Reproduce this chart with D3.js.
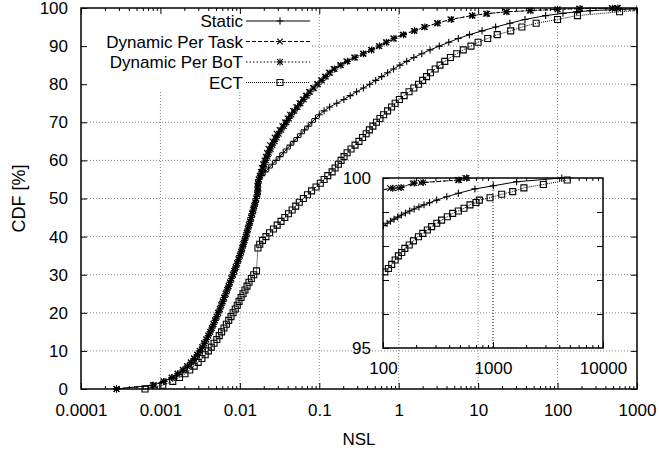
<!DOCTYPE html>
<html lang="en">
<head>
<meta charset="UTF-8">
<title>CDF of NSL</title>
<style>
  body { margin: 0; background: #fff; }
  svg { display: block; font-family: "Liberation Sans", Arial, Helvetica, sans-serif; }
  .tick text { font-size: 17px; font-family: "Liberation Sans", Arial, Helvetica, sans-serif; fill: #000; }
  .grid line { stroke: #888; stroke-width: 1; stroke-dasharray: 1,2; }
  .label { font-size: 17px; fill: #000; }
</style>
</head>
<body>
<div id="chart"></div>
<script src="https://d3js.org/d3.v7.min.js"></script>
<script>
// ---- data (NSL, CDF %) ----
const seriesNames = ["Static", "Dynamic Per Task", "Dynamic Per BoT", "ECT"];
const cdfTicks = [0, 10, 20, 30, 40, 50, 60, 70, 80, 90, 100];
const nslTicks = [0.0001, 0.001, 0.01, 0.1, 1, 10, 100, 1000];
const nslLabels = ["0.0001", "0.001", "0.01", "0.1", "1", "10", "100", "1000"];
const insetXTicks = [100, 1000, 10000];
const insetXLabels = ["100", "1000", "10000"];
const insetYTicks = [95, 100];

const staticMain = [[0.00028,0],[0.00081,1],[0.00111,2],[0.0014,3],[0.00166,4],[0.00194,5],[0.00219,6],[0.00244,7],[0.00268,8],[0.00292,9],[0.00316,10],[0.00339,11],[0.00358,12],[0.0038,13],[0.00403,14],[0.00425,15],[0.00447,16],[0.00468,17],[0.0049,18],[0.00513,19],[0.00537,20],[0.00562,21],[0.00586,22],[0.00612,23],[0.00638,24],[0.00667,25],[0.00695,26],[0.00724,27],[0.00755,28],[0.00785,29],[0.0082,30],[0.00855,31],[0.0089,32],[0.00927,33],[0.00964,34],[0.01,35],[0.0104,36],[0.01074,37],[0.0111,38],[0.01148,39],[0.01186,40],[0.01225,41],[0.01265,42],[0.01306,43],[0.01349,44],[0.0139,45],[0.01432,46],[0.01476,47],[0.0152,48],[0.01567,49],[0.01614,50],[0.0166,51],[0.0168,52],[0.0168,53],[0.0169,54],[0.0173,55],[0.0188,56],[0.0208,57],[0.0231,58],[0.0257,59],[0.0286,60],[0.0318,61],[0.0352,62],[0.039,63],[0.0432,64],[0.0479,65],[0.0531,66],[0.0589,67],[0.0653,68],[0.0725,69],[0.0805,70],[0.0895,71],[0.1,72],[0.115,73],[0.135,74],[0.166,75],[0.204,76],[0.245,77],[0.295,78],[0.359,79],[0.432,80],[0.513,81],[0.61,82],[0.724,83],[0.861,84],[1.035,85],[1.26,86],[1.55,87],[1.95,88],[2.48,89],[3.24,90],[4.27,91],[5.62,92],[7.76,93],[11.2,94],[16.6,95],[25.1,96],[38.9,97],[70.8,98],[117,98.6],[174,99],[257,99.3],[550,99.6],[1000,99.77],[1640,99.89],[4220,100]];

const taskMain = [[0.00028,0],[0.00083,1],[0.00109,2],[0.00138,3],[0.00164,4],[0.00191,5],[0.00216,6],[0.00241,7],[0.00265,8],[0.00289,9],[0.00312,10],[0.00335,11],[0.00355,12],[0.00377,13],[0.004,14],[0.00422,15],[0.00444,16],[0.00465,17],[0.00487,18],[0.0051,19],[0.00533,20],[0.00558,21],[0.00582,22],[0.00608,23],[0.00634,24],[0.00662,25],[0.0069,26],[0.00719,27],[0.0075,28],[0.0078,29],[0.00815,30],[0.0085,31],[0.00885,32],[0.00922,33],[0.0096,34],[0.00996,35],[0.01035,36],[0.0107,37],[0.01107,38],[0.01145,39],[0.01183,40],[0.01222,41],[0.01262,42],[0.01303,43],[0.01345,44],[0.01387,45],[0.0143,46],[0.01474,47],[0.01518,48],[0.01565,49],[0.0161,50],[0.0166,51],[0.0168,52],[0.0168,53],[0.0169,54],[0.0172,55],[0.0177,56],[0.0183,57],[0.0189,58],[0.0196,59],[0.0204,60],[0.0211,61],[0.0219,62],[0.0229,63],[0.024,64],[0.0257,65],[0.0274,66],[0.029,67],[0.0315,68],[0.0343,69],[0.037,70],[0.0398,71],[0.0427,72],[0.0468,73],[0.0513,74],[0.0562,75],[0.0617,76],[0.0676,77],[0.0741,78],[0.0832,79],[0.0933,80],[0.105,81],[0.117,82],[0.132,83],[0.151,84],[0.182,85],[0.219,86],[0.275,87],[0.355,88],[0.447,89],[0.562,90],[0.692,91],[0.851,92],[1.12,93],[1.55,94],[2.09,95],[3.02,96],[4.47,97],[8.3,98],[12.6,98.5],[22.4,99],[44.7,99.3],[100,99.65],[186,99.84],[480,99.94],[560,100]];

const botMain = [[0.00028,0],[0.0008,1],[0.0011,2],[0.00139,3],[0.00165,4],[0.00192,5],[0.00217,6],[0.00242,7],[0.00266,8],[0.0029,9],[0.00314,10],[0.00337,11],[0.00356,12],[0.00378,13],[0.00401,14],[0.00423,15],[0.00445,16],[0.00466,17],[0.00488,18],[0.00511,19],[0.00535,20],[0.0056,21],[0.00584,22],[0.0061,23],[0.00636,24],[0.00664,25],[0.00692,26],[0.00721,27],[0.00752,28],[0.00782,29],[0.00817,30],[0.00852,31],[0.00887,32],[0.00924,33],[0.00962,34],[0.00998,35],[0.01037,36],[0.01072,37],[0.01108,38],[0.01146,39],[0.01184,40],[0.01223,41],[0.01263,42],[0.01304,43],[0.01347,44],[0.01388,45],[0.01431,46],[0.01475,47],[0.01519,48],[0.01566,49],[0.01612,50],[0.0166,51],[0.0168,52],[0.0168,53],[0.0169,54],[0.0174,55],[0.0181,56],[0.0188,57],[0.0196,58],[0.0204,59],[0.0213,60],[0.0222,61],[0.0232,62],[0.0244,63],[0.0258,64],[0.0274,65],[0.0291,66],[0.0309,67],[0.0332,68],[0.0358,69],[0.0387,70],[0.0416,71],[0.0447,72],[0.0487,73],[0.0533,74],[0.0582,75],[0.0638,76],[0.0698,77],[0.0766,78],[0.0857,79],[0.096,80],[0.108,81],[0.121,82],[0.136,83],[0.156,84],[0.187,85],[0.226,86],[0.282,87],[0.36,88],[0.455,89],[0.57,90],[0.7,91],[0.87,92],[1.15,93],[1.58,94],[2.13,95],[3.1,96],[4.6,97],[8.5,98],[13,98.5],[23,99],[46,99.3],[100,99.65],[192,99.85],[490,99.94],[575,100]];

const ectMain = [[0.00064,0],[0.00107,1],[0.00143,2],[0.00174,3],[0.00204,4],[0.00234,5],[0.00266,6],[0.00299,7],[0.00333,8],[0.00366,9],[0.00401,10],[0.00437,11],[0.00473,12],[0.00513,13],[0.0055,14],[0.00589,15],[0.00631,16],[0.00676,17],[0.00724,18],[0.00773,19],[0.00822,20],[0.00875,21],[0.00927,22],[0.00977,23],[0.01035,24],[0.01096,25],[0.01159,26],[0.0123,27],[0.01303,28],[0.01396,29],[0.01496,30],[0.0162,31],[0.0169,37],[0.0178,38],[0.0193,39],[0.0213,40],[0.0237,41],[0.0265,42],[0.0295,43],[0.033,44],[0.0368,45],[0.041,46],[0.0455,47],[0.0505,48],[0.056,49],[0.063,50],[0.071,51],[0.08,52],[0.091,53],[0.103,54],[0.115,55],[0.128,56],[0.145,57],[0.158,58],[0.174,59],[0.188,60],[0.205,61],[0.224,62],[0.251,63],[0.282,64],[0.316,65],[0.351,66],[0.389,67],[0.427,68],[0.473,69],[0.525,70],[0.581,71],[0.646,72],[0.724,73],[0.813,74],[0.902,75],[1.02,76],[1.17,77],[1.35,78],[1.55,79],[1.78,80],[2.0,81],[2.24,82],[2.51,83],[2.88,84],[3.31,85],[3.8,86],[4.47,87],[5.37,88],[6.5,89],[8.13,90],[10,91],[13.2,92],[17.4,93],[25.7,94],[35.5,95],[53.7,96],[100,97],[178,98],[603,99],[1260,99.5],[4730,100]];

// zoomed tail (inset)
const staticInset = [[101,98.6],[109,98.67],[117,98.73],[126,98.79],[136,98.85],[147,98.91],[160,98.97],[175,99.03],[192,99.09],[212,99.15],[236,99.21],[265,99.27],[308,99.35],[380,99.45],[484,99.55],[685,99.68],[1007,99.77],[1640,99.89],[4220,100]];
const taskInset = [[90,99.62],[116,99.7],[140,99.71],[186,99.84],[220,99.86],[480,99.94],[560,100]];
const botInset = [[90,99.62],[123,99.7],[146,99.72],[192,99.85],[232,99.87],[490,99.94],[575,100]];
const ectInset = [[104,97.24],[112,97.34],[120,97.46],[129,97.59],[138,97.71],[148,97.81],[158,97.93],[173,98.03],[189,98.15],[210,98.27],[230,98.37],[253,98.47],[277,98.57],[308,98.67],[341,98.76],[384,98.86],[430,98.96],[484,99.03],[545,99.11],[618,99.21],[700,99.28],[751,99.35],[940,99.42],[1200,99.52],[1510,99.6],[1910,99.71],[2870,99.81],[4730,99.94]];

// ---- layout ----
const width = 659, height = 450;
const plot = { left: 81, right: 637, top: 8, bottom: 389 };
const box = { left: 383, right: 603, top: 178, bottom: 348 };

const svg = d3.select("#chart").append("svg")
    .attr("width", width)
    .attr("height", height);

const x = d3.scaleLog().domain([1e-4, 1e3]).range([plot.left, plot.right]);
const y = d3.scaleLinear().domain([0, 100]).range([plot.bottom, plot.top]);
const xi = d3.scaleLog().domain([100, 10000]).range([box.left, box.right]);
const yi = d3.scaleLinear().domain([95, 100]).range([box.bottom, box.top]);

const defs = svg.append("defs");
defs.append("clipPath").attr("id", "clip-main").append("rect")
    .attr("x", plot.left).attr("y", plot.top - 4)
    .attr("width", plot.right - plot.left).attr("height", plot.bottom - plot.top + 8);
defs.append("clipPath").attr("id", "clip-inset").append("rect")
    .attr("x", box.left).attr("y", box.top - 4)
    .attr("width", box.right - box.left).attr("height", box.bottom - box.top + 8);

const series = [
    { name: seriesNames[0], main: staticMain, inset: staticInset, dash: null, marks: [d3.symbolPlus] },
    { name: seriesNames[1], main: taskMain, inset: taskInset, dash: "4,2", marks: [d3.symbolTimes] },
    { name: seriesNames[2], main: botMain, inset: botInset, dash: "1.5,2", marks: [d3.symbolPlus, d3.symbolTimes] },
    { name: seriesNames[3], main: ectMain, inset: ectInset, dash: "1,1", marks: [d3.symbolSquare] }
];
const markSize = t => t === d3.symbolSquare ? 36 : (t === d3.symbolTimes ? 22 : 18);

// grid
const grid = svg.append("g").attr("class", "grid");
grid.selectAll(".gh").data(cdfTicks.slice(1, -1)).join("line")
    .attr("x1", plot.left).attr("x2", plot.right)
    .attr("y1", d => y(d)).attr("y2", d => y(d));
grid.selectAll(".gv").data(nslTicks.slice(1, -1)).join("line")
    .attr("x1", d => x(d)).attr("x2", d => x(d))
    .attr("y1", plot.top).attr("y2", plot.bottom);

function drawSeries(g, s, data, sx, sy) {
    const line = d3.line().x(d => sx(d[0])).y(d => sy(d[1]));
    g.append("path")
        .attr("d", line(data))
        .attr("fill", "none")
        .attr("stroke", "#000")
        .attr("stroke-width", 1)
        .attr("stroke-dasharray", s.dash);
    s.marks.forEach(t => {
        g.selectAll(null).data(data).join("path")
            .attr("transform", d => `translate(${sx(d[0])},${sy(d[1])})`)
            .attr("d", d3.symbol().type(t).size(markSize(t)))
            .attr("fill", "none")
            .attr("stroke", "#000")
            .attr("stroke-width", 1.1);
    });
}

// legend background (opaque key) goes under the curves' right end
const key = svg.append("g");
key.append("rect")
    .attr("x", plot.left + 1).attr("y", plot.top + 1)
    .attr("width", 230).attr("height", 82)
    .attr("fill", "#fff");

// main curves
const mainG = svg.append("g").attr("clip-path", "url(#clip-main)");
series.forEach(s => drawSeries(mainG.append("g"), s, s.main, x, y));

series.forEach((s, i) => {
    const cy = 21 + i * 20.5;
    key.append("text").attr("class", "label")
        .attr("x", 243).attr("y", cy + 6)
        .attr("text-anchor", "end")
        .text(s.name);
    key.append("line")
        .attr("x1", 246).attr("x2", 310).attr("y1", cy).attr("y2", cy)
        .attr("stroke", "#000").attr("stroke-width", 1)
        .attr("stroke-dasharray", s.dash);
    s.marks.forEach(t => {
        key.append("path")
            .attr("transform", `translate(280,${cy})`)
            .attr("d", d3.symbol().type(t).size(markSize(t)))
            .attr("fill", "none").attr("stroke", "#000").attr("stroke-width", 1.1);
    });
});

// main axes
const fmtX = d => nslLabels[nslTicks.indexOf(d)];
const minorX = x.ticks().filter(d => nslTicks.indexOf(d) < 0);

svg.append("g").attr("transform", `translate(0,${plot.bottom})`)
    .call(d3.axisBottom(x).tickValues(nslTicks).tickFormat(fmtX).tickSizeInner(-6).tickSizeOuter(0).tickPadding(15))
    .call(g => g.select(".domain").remove());
svg.append("g").attr("transform", `translate(0,${plot.bottom})`)
    .call(d3.axisBottom(x).tickValues(minorX).tickFormat("").tickSizeInner(-3).tickSizeOuter(0))
    .call(g => g.select(".domain").remove());
svg.append("g").attr("transform", `translate(0,${plot.top})`)
    .call(d3.axisTop(x).tickValues(nslTicks).tickFormat("").tickSizeInner(-6).tickSizeOuter(0))
    .call(g => g.select(".domain").remove());
svg.append("g").attr("transform", `translate(0,${plot.top})`)
    .call(d3.axisTop(x).tickValues(minorX).tickFormat("").tickSizeInner(-3).tickSizeOuter(0))
    .call(g => g.select(".domain").remove());
svg.append("g").attr("transform", `translate(${plot.left},0)`)
    .call(d3.axisLeft(y).tickValues(cdfTicks).tickFormat(d3.format("d")).tickSizeInner(-6).tickSizeOuter(0).tickPadding(13))
    .call(g => g.select(".domain").remove());
svg.append("g").attr("transform", `translate(${plot.right},0)`)
    .call(d3.axisRight(y).tickValues(cdfTicks).tickFormat("").tickSizeInner(-6).tickSizeOuter(0))
    .call(g => g.select(".domain").remove());

svg.append("rect")
    .attr("x", plot.left).attr("y", plot.top)
    .attr("width", plot.right - plot.left).attr("height", plot.bottom - plot.top)
    .attr("fill", "none").attr("stroke", "#000").attr("stroke-width", 1.5);

// inset
svg.append("line")
    .attr("x1", xi(1000)).attr("x2", xi(1000))
    .attr("y1", box.top).attr("y2", box.bottom)
    .attr("stroke", "#000").attr("stroke-dasharray", "1,2");

const insetG = svg.append("g").attr("clip-path", "url(#clip-inset)");
series.forEach(s => drawSeries(insetG.append("g"), s, s.inset, xi, yi));

const minorXi = xi.ticks().filter(d => insetXTicks.indexOf(d) < 0);
const minorYi = yi.ticks(5).filter(d => insetYTicks.indexOf(d) < 0);

svg.append("g").attr("transform", `translate(0,${box.bottom})`)
    .call(d3.axisBottom(xi).tickValues(insetXTicks).tickFormat(d => insetXLabels[insetXTicks.indexOf(d)]).tickSizeInner(-6).tickSizeOuter(0).tickPadding(14))
    .call(g => g.select(".domain").remove());
svg.append("g").attr("transform", `translate(0,${box.bottom})`)
    .call(d3.axisBottom(xi).tickValues(minorXi).tickFormat("").tickSizeInner(-3).tickSizeOuter(0))
    .call(g => g.select(".domain").remove());
svg.append("g").attr("transform", `translate(0,${box.top})`)
    .call(d3.axisTop(xi).tickValues(minorXi).tickFormat("").tickSizeInner(-3).tickSizeOuter(0))
    .call(g => g.select(".domain").remove());
svg.append("g").attr("transform", `translate(${box.left},0)`)
    .call(d3.axisLeft(yi).tickValues(insetYTicks).tickFormat(d3.format("d")).tickSizeInner(-6).tickSizeOuter(0).tickPadding(12))
    .call(g => g.select(".domain").remove());
svg.append("g").attr("transform", `translate(${box.left},0)`)
    .call(d3.axisLeft(yi).tickValues(minorYi).tickFormat("").tickSizeInner(-6).tickSizeOuter(0))
    .call(g => g.select(".domain").remove());
svg.append("g").attr("transform", `translate(${box.right},0)`)
    .call(d3.axisRight(yi).tickValues(minorYi).tickFormat("").tickSizeInner(-6).tickSizeOuter(0))
    .call(g => g.select(".domain").remove());

svg.append("rect")
    .attr("x", box.left).attr("y", box.top)
    .attr("width", box.right - box.left).attr("height", box.bottom - box.top)
    .attr("fill", "none").attr("stroke", "#000").attr("stroke-width", 1.5);

// axis titles
svg.append("text").attr("class", "label")
    .attr("transform", `translate(25,${(plot.top + plot.bottom) / 2}) rotate(-90)`)
    .attr("text-anchor", "middle")
    .style("font-size", "18px")
    .text("CDF [%]");
svg.append("text").attr("class", "label")
    .attr("x", (plot.left + plot.right) / 2).attr("y", 445)
    .attr("text-anchor", "middle")
    .text("NSL");
</script>
</body>
</html>
